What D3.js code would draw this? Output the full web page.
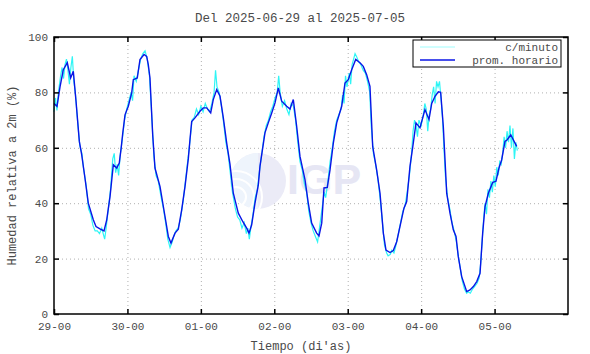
<!DOCTYPE html>
<html>
<head>
<meta charset="utf-8">
<script src="https://cdn.jsdelivr.net/npm/d3@7"></script>
<style>
  body { margin: 0; background: #fff; }
  text { font-family: "Liberation Mono", "DejaVu Sans Mono", monospace; fill: #4a4a4a; }
</style>
</head>
<body>
<div id="chart"></div>
<script>
const titulo = "Del 2025-06-29 al 2025-07-05";
const diasTicks = [0, 1, 2, 3, 4, 5, 6];
const diasLabels = ["29-00", "30-00", "01-00", "02-00", "03-00", "04-00", "05-00"];
const humTicks = [0, 20, 40, 60, 80, 100];

// promedio horario (dias desde 2025-06-29 00:00, %)
const tHorario = [0.000, 0.041, 0.082, 0.127, 0.181, 0.227, 0.263, 0.300, 0.345, 0.377, 0.422, 0.467, 0.535, 0.572, 0.626, 0.681, 0.718, 0.763, 0.808, 0.854, 0.889, 0.915, 0.935, 0.967, 1.012, 1.058, 1.080, 1.134, 1.171, 1.226, 1.262, 1.284, 1.307, 1.344, 1.375, 1.444, 1.512, 1.557, 1.593, 1.648, 1.693, 1.739, 1.784, 1.829, 1.852, 1.875, 1.920, 1.988, 2.033, 2.080, 2.134, 2.169, 2.216, 2.261, 2.306, 2.352, 2.397, 2.442, 2.510, 2.570, 2.624, 2.656, 2.692, 2.737, 2.782, 2.805, 2.873, 2.918, 2.965, 3.010, 3.055, 3.101, 3.169, 3.214, 3.259, 3.305, 3.350, 3.418, 3.463, 3.509, 3.577, 3.609, 3.646, 3.677, 3.722, 3.759, 3.804, 3.850, 3.918, 3.963, 4.008, 4.054, 4.109, 4.167, 4.212, 4.258, 4.303, 4.340, 4.394, 4.440, 4.485, 4.521, 4.576, 4.621, 4.667, 4.712, 4.766, 4.803, 4.848, 4.893, 4.930, 4.984, 5.052, 5.107, 5.144, 5.189, 5.234, 5.266, 5.302, 5.325, 5.348, 5.393, 5.438, 5.475, 5.506, 5.552, 5.620, 5.665, 5.711, 5.757, 5.802, 5.838, 5.870, 5.915, 5.975, 6.019, 6.060, 6.097, 6.142, 6.173, 6.220, 6.301];
const promHorario = [76, 75, 82, 88.2, 90.7, 85.2, 87.6, 76.8, 62.3, 57.5, 49, 40, 34, 31.6, 30.7, 30, 34, 42.4, 53.9, 52.7, 54.5, 60, 65, 71.9, 75, 79.8, 84.6, 85.2, 91.9, 93.7, 93, 90, 85.2, 64.7, 52.7, 46, 35.2, 28, 25.6, 29.2, 30.6, 37.6, 46, 56, 63, 69.5, 70.8, 73.2, 74.4, 74.4, 72.6, 77.4, 81, 78.6, 70.8, 61.7, 54, 43.6, 36.4, 33.4, 31, 29.2, 32.2, 40, 46.5, 53.3, 65.4, 69, 72.6, 76.2, 81.6, 76.8, 75, 74, 77.4, 67.7, 56.9, 48.5, 40, 32.8, 29.2, 28.2, 32.8, 45.5, 45.7, 52, 61.7, 69, 75, 83.4, 84.6, 88.2, 91.9, 90.7, 89.4, 86.4, 82.2, 60.5, 52, 43.6, 29.2, 23.1, 22.2, 22.9, 26.1, 31.6, 38.2, 40.6, 53.3, 61.7, 69, 67.2, 73.8, 70.2, 76, 78.6, 80.2, 80, 67.7, 55.7, 43.6, 36.4, 30.4, 28, 20.7, 13.5, 8.1, 8.7, 9.9, 11.7, 14.7, 29.2, 38.8, 43.6, 47.5, 47.9, 52.7, 55.7, 62.3, 62.9, 64.7, 60.5];

// datos por minuto (muestra)
const tMinuto = [0.00, 0.02, 0.04, 0.06, 0.09, 0.11, 0.13, 0.15, 0.17, 0.19, 0.21, 0.23, 0.25, 0.27, 0.29, 0.32, 0.35, 0.38, 0.40, 0.44, 0.47, 0.50, 0.53, 0.56, 0.59, 0.62, 0.65, 0.67, 0.69, 0.71, 0.74, 0.77, 0.80, 0.82, 0.84, 0.86, 0.88, 0.90, 0.93, 0.96, 0.99, 1.02, 1.05, 1.07, 1.09, 1.12, 1.15, 1.18, 1.21, 1.24, 1.27, 1.30, 1.33, 1.36, 1.39, 1.42, 1.46, 1.49, 1.52, 1.55, 1.58, 1.61, 1.63, 1.66, 1.69, 1.72, 1.76, 1.79, 1.82, 1.85, 1.88, 1.91, 1.94, 1.97, 2.00, 2.03, 2.06, 2.09, 2.12, 2.15, 2.18, 2.20, 2.22, 2.25, 2.28, 2.31, 2.34, 2.37, 2.40, 2.43, 2.47, 2.50, 2.53, 2.56, 2.59, 2.62, 2.64, 2.66, 2.68, 2.71, 2.74, 2.77, 2.80, 2.83, 2.86, 2.89, 2.92, 2.95, 2.98, 3.01, 3.04, 3.06, 3.08, 3.11, 3.14, 3.17, 3.20, 3.23, 3.26, 3.29, 3.32, 3.35, 3.38, 3.41, 3.44, 3.47, 3.50, 3.53, 3.56, 3.59, 3.61, 3.63, 3.66, 3.68, 3.70, 3.73, 3.76, 3.79, 3.82, 3.85, 3.88, 3.91, 3.93, 3.95, 3.97, 3.99, 4.02, 4.04, 4.06, 4.08, 4.10, 4.12, 4.15, 4.18, 4.21, 4.24, 4.27, 4.30, 4.32, 4.35, 4.38, 4.41, 4.44, 4.47, 4.50, 4.53, 4.55, 4.58, 4.60, 4.63, 4.65, 4.69, 4.72, 4.75, 4.78, 4.81, 4.84, 4.87, 4.89, 4.91, 4.93, 4.95, 4.97, 5.00, 5.03, 5.05, 5.07, 5.09, 5.11, 5.13, 5.15, 5.17, 5.19, 5.21, 5.23, 5.25, 5.27, 5.29, 5.31, 5.33, 5.36, 5.39, 5.42, 5.45, 5.48, 5.50, 5.53, 5.56, 5.59, 5.62, 5.64, 5.67, 5.70, 5.73, 5.76, 5.79, 5.81, 5.83, 5.85, 5.87, 5.89, 5.91, 5.93, 5.95, 5.97, 5.99, 6.01, 6.03, 6.05, 6.07, 6.09, 6.11, 6.13, 6.15, 6.17, 6.19, 6.21, 6.23, 6.25, 6.27, 6.29, 6.31];
const cMinuto = [73, 78, 73.5, 80, 86, 89, 85, 90, 92, 88, 83, 89, 93, 84, 80, 70, 61, 58, 53, 46, 38, 36, 32, 30, 30, 29, 31, 29, 27, 31, 38, 45, 56, 58, 51, 54, 50, 57, 63, 70, 74, 77, 80, 77, 86, 84, 88, 92, 94, 95, 92, 86, 72, 57, 50, 48, 42, 38, 33, 27, 24, 26, 28, 30, 31, 34, 41, 48, 55, 62, 70, 71, 74, 72, 75, 73, 76, 74, 73, 76, 80, 88, 82, 80, 75, 69, 62, 58, 51, 44, 38, 35, 34, 31, 33, 29, 31, 27, 31, 36, 42, 45, 52, 58, 64, 68, 70, 73, 75, 78, 80, 86, 80, 75, 77, 74, 72, 76, 75, 70, 62, 55, 52, 47, 44, 37, 33, 30, 28, 26, 30, 34, 40, 44, 42, 48, 55, 60, 66, 70, 72, 74, 79, 76, 86, 82, 87, 83, 90, 92, 94, 93, 91, 90, 88, 87, 84, 80, 68, 58, 54, 49, 42, 34, 25, 22, 21, 21.5, 23, 22, 24, 29, 33, 37, 39, 44, 50, 58, 66, 70, 68, 64, 70, 68, 72, 76, 74, 66, 72, 74, 79, 82, 76, 84, 82, 84, 78, 71, 60, 50, 42, 38, 33, 30, 26, 22, 17, 12, 9, 7.5, 8, 7.5, 9, 10, 11, 13, 18, 26, 34, 40, 36, 45, 42, 48, 44, 50, 46, 53, 50, 55, 54, 58, 64, 60, 66, 62, 68, 60, 67, 56, 62, 59];

const margin = { top: 37, right: 22, bottom: 40, left: 54 };
const width = 590 - margin.left - margin.right;
const height = 354 - margin.top - margin.bottom;

const svgRoot = d3.select("#chart").append("svg")
  .attr("width", 590).attr("height", 354);
const svg = svgRoot.append("g")
  .attr("transform", "translate(" + margin.left + "," + margin.top + ")");

const x = d3.scaleLinear().domain([0, 7]).range([0, width]);
const y = d3.scaleLinear().domain([0, 100]).range([height, 0]);

// grid
svg.append("g")
  .attr("transform", "translate(0," + height + ")")
  .call(d3.axisBottom(x).tickValues(diasTicks.slice(1)).tickSize(-height).tickFormat(""))
  .call(g => g.select(".domain").remove())
  .selectAll("line").attr("stroke", "#b0b0b0").attr("stroke-dasharray", "1,3");
svg.append("g")
  .call(d3.axisLeft(y).tickValues(humTicks.slice(1, -1)).tickSize(-width).tickFormat(""))
  .call(g => g.select(".domain").remove())
  .selectAll("line").attr("stroke", "#b0b0b0").attr("stroke-dasharray", "1,3");

// marca de agua IGP
const wm = svg.append("g");
wm.append("circle").attr("cx", 204).attr("cy", 144).attr("r", 28).attr("fill", "#ebebf7");
wm.append("path")
  .attr("d", "M204,116 A28,28 0 0,0 204,172 Z")
  .attr("fill", "#eef4fc");
[10, 18, 26].forEach(r => {
  wm.append("circle").attr("cx", 182).attr("cy", 160).attr("r", r)
    .attr("fill", "none").attr("stroke", "#fff").attr("stroke-width", 2);
});
wm.append("text").attr("x", 233).attr("y", 157)
  .style("font-family", "Liberation Sans, Arial, sans-serif")
  .style("font-weight", "bold").style("font-size", "43px")
  .style("fill", "#e6e6f4").text("IGP");

// series
const linea = d3.line().x(d => x(d[0])).y(d => y(d[1]));
svg.append("path")
  .datum(d3.zip(tMinuto, cMinuto))
  .attr("fill", "none").attr("stroke", "#2ef5f5").attr("stroke-width", 1.2)
  .attr("d", linea);
svg.append("path")
  .datum(d3.zip(tHorario, promHorario))
  .attr("fill", "none").attr("stroke", "#0a14e6").attr("stroke-width", 1.4)
  .attr("d", linea);

// ejes
svg.append("g")
  .attr("transform", "translate(0," + height + ")")
  .call(d3.axisBottom(x).tickValues(diasTicks).tickSize(-5).tickPadding(8)
    .tickFormat((d, i) => diasLabels[i]))
  .call(g => g.select(".domain").remove())
  .call(g => g.selectAll("line").attr("stroke", "#000").attr("stroke-width", 1.5))
  .selectAll("text").style("font-size", "11px").attr("fill", "#4a4a4a");
svg.append("g")
  .call(d3.axisTop(x).tickValues(diasTicks).tickSize(-5).tickFormat(""))
  .call(g => g.select(".domain").remove())
  .selectAll("line").attr("stroke", "#000").attr("stroke-width", 1.5);
svg.append("g")
  .call(d3.axisLeft(y).tickValues(humTicks).tickSize(-5).tickPadding(6))
  .call(g => g.select(".domain").remove())
  .call(g => g.selectAll("line").attr("stroke", "#000").attr("stroke-width", 1.5))
  .selectAll("text").style("font-size", "11px").attr("fill", "#4a4a4a");
svg.append("g")
  .attr("transform", "translate(" + width + ",0)")
  .call(d3.axisRight(y).tickValues(humTicks).tickSize(-5).tickFormat(""))
  .call(g => g.select(".domain").remove())
  .selectAll("line").attr("stroke", "#000").attr("stroke-width", 1.5);

svg.append("rect")
  .attr("width", width).attr("height", height)
  .attr("fill", "none").attr("stroke", "#000").attr("stroke-width", 1.5);

// leyenda
const leg = svg.append("g").attr("transform", "translate(" + (width - 155) + ",3)");
leg.append("rect").attr("width", 148).attr("height", 27)
  .attr("fill", "#fff").attr("stroke", "#000").attr("stroke-width", 1);
leg.append("line").attr("x1", 7).attr("x2", 42).attr("y1", 7).attr("y2", 7)
  .attr("stroke", "#9ffcfc").attr("stroke-width", 1);
leg.append("text").attr("x", 145).attr("y", 11).attr("text-anchor", "end")
  .style("font-size", "11px").text("c/minuto");
leg.append("line").attr("x1", 7).attr("x2", 42).attr("y1", 20).attr("y2", 20)
  .attr("stroke", "#0a14e6").attr("stroke-width", 1.4);
leg.append("text").attr("x", 145).attr("y", 24).attr("text-anchor", "end")
  .style("font-size", "11px").text("prom. horario");

// titulos
svgRoot.append("text").attr("x", 300).attr("y", 22).attr("text-anchor", "middle")
  .style("font-size", "12.5px").text(titulo);
svgRoot.append("text").attr("x", 301).attr("y", 350).attr("text-anchor", "middle")
  .style("font-size", "12px").text("Tiempo (di'as)");
svgRoot.append("text")
  .attr("transform", "translate(16," + (margin.top + height / 2) + ") rotate(-90)")
  .attr("text-anchor", "middle")
  .style("font-size", "12px").text("Humedad relativa a 2m (%)");
</script>
</body>
</html>
